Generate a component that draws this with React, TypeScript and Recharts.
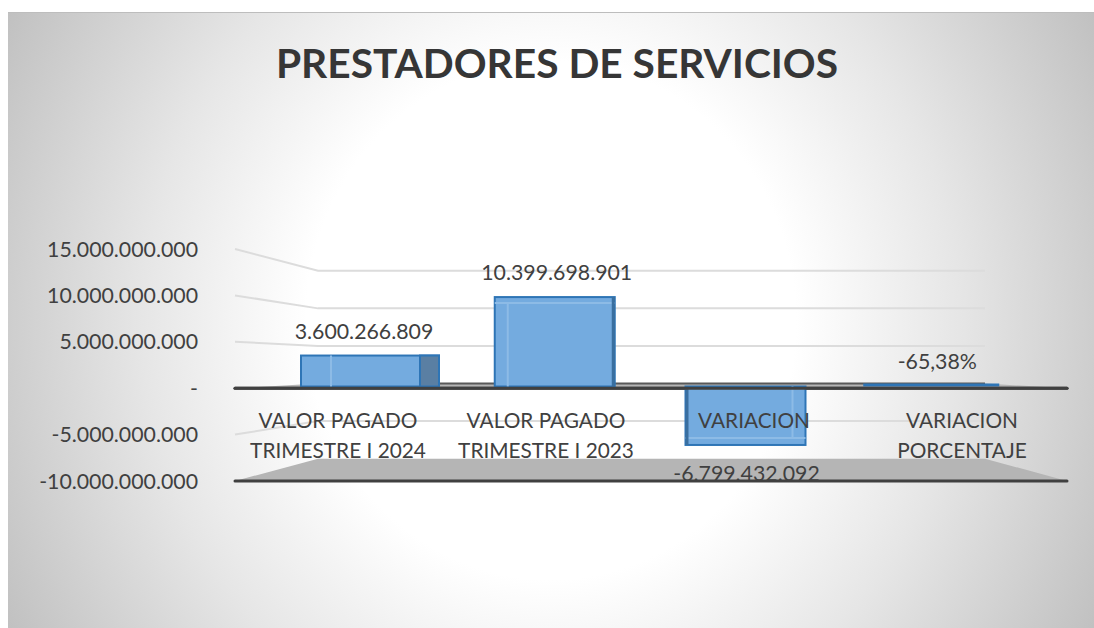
import { BarChart, Bar, XAxis, YAxis, ReferenceLine, LabelList } from 'recharts'

const categories = ['VALOR PAGADO\nTRIMESTRE I 2024', 'VALOR PAGADO\nTRIMESTRE I 2023', 'VARIACION', 'VARIACION\nPORCENTAJE']
const values = [3600266809, 10399698901, -6799432092, -0.6538]
const yTicks = [15000000000, 10000000000, 5000000000, 0, -5000000000, -10000000000]

// hand tweaks so the flat chart lines up with the 3D look of the original
const barNudge = [0, 0, 6, -1]
const labelNudge = [-6, 2, 7, 13]

const WIDTH = 1086
const HEIGHT = 616
const PLOT_TOP = 237
const PLOT_H = 232
const FONT = 'Lato, Carlito, sans-serif'
const FONT_SIZE = 21.3
const TEXT = '#404040'
const GRID = '#dcdcdc'
const FLOOR = '#b5b5b5'
const AXIS = '#404040'

const data = categories.map((name, i) => ({ name, value: values[i] }))

const formatNumber = (v: number) => {
  if (v === 0) return '-'
  if (Math.abs(v) < 1) return (v * 100).toFixed(2).replace('.', ',') + '%'
  return String(v).replace(/\B(?=(\d{3})+(?!\d))/g, '.')
}

const frontY = (v: number) => PLOT_TOP + ((15000000000 - v) / 25000000000) * PLOT_H

function WallLine(props: any) {
  const { x1, x2, y1, value } = props
  const bx1 = x1 + 83
  const bx2 = x2 - 82
  return (
    <g fill="none" stroke={GRID} strokeWidth={2}>
      <polyline points={`${x1},${frontY(value)} ${bx1},${y1} ${bx2},${y1}`} />
    </g>
  )
}

function Floor(props: any) {
  const { x1, x2, y1, value } = props
  const bx1 = x1 + 83
  const bx2 = x2 - 82
  const fy = frontY(value)
  return (
    <g>
      <polygon points={`${x1},${fy} ${bx1},${y1} ${bx2},${y1} ${x2},${fy}`} fill={FLOOR} />
      {value === 0 && <line x1={bx1} x2={bx2} y1={y1} y2={y1} stroke="#595959" strokeWidth={2} />}
      <line x1={x1} x2={x2} y1={fy} y2={fy} stroke={AXIS} strokeWidth={3} strokeLinecap="round" />
    </g>
  )
}

function FrontEdge(props: any) {
  const { x1, x2, y1 } = props
  return <line x1={x1} x2={x2} y1={y1} y2={y1} stroke={AXIS} strokeWidth={3} strokeLinecap="round" />
}

function BoxBar(props: any) {
  const { x, y, width, height, index } = props
  const top = Math.min(y, y + height)
  const bottom = Math.max(y, y + height)
  const left = x + barNudge[index]
  const right = left + width
  const stroke = '#2e75b6'
  const fill = '#74abdf'
  const inner = '#8dbbe6'

  if (index === 0) {
    // wide box, side face visible on the right
    return (
      <g>
        <rect x={left - 9} y={top} width={width + 18} height={bottom - top} fill={fill} stroke={stroke} strokeWidth={2} />
        <line x1={left + 21} x2={left + 21} y1={top} y2={bottom} stroke={inner} strokeWidth={2} />
        <rect x={right - 10} y={top} width={19} height={bottom - top} fill="#5a7fa3" stroke={stroke} strokeWidth={2} />
      </g>
    )
  }
  if (index === 1) {
    return (
      <g>
        <rect x={left} y={top} width={width} height={bottom - top} fill={fill} stroke={stroke} strokeWidth={2} />
        <line x1={left + 13} x2={left + 13} y1={top + 6} y2={bottom} stroke={inner} strokeWidth={2} />
        <line x1={left} x2={right} y1={top + 6} y2={top + 6} stroke={inner} strokeWidth={2} />
        <rect x={right - 3} y={top} width={3} height={bottom - top} fill="#3a6f9f" />
      </g>
    )
  }
  if (index === 2) {
    return (
      <g>
        <rect x={left} y={top} width={width} height={bottom - top} fill={fill} stroke={stroke} strokeWidth={2} />
        <line x1={right - 13} x2={right - 13} y1={top} y2={bottom - 7} stroke={inner} strokeWidth={2} />
        <line x1={left} x2={right} y1={bottom - 7} y2={bottom - 7} stroke={inner} strokeWidth={2} />
        <rect x={left} y={top} width={3} height={bottom - top} fill="#3a6f9f" />
      </g>
    )
  }
  // percentage is next to nothing on a scale of billions
  return <rect x={left} y={top - 3} width={width + 16} height={3} fill={stroke} />
}

function ValueLabel(props: any) {
  const { x, y, width, height, index, value } = props
  const top = Math.min(y, y + height)
  const bottom = Math.max(y, y + height)
  const ly = value < 0 && index === 2 ? bottom + 28 : top - 25
  return (
    <text x={x + width / 2 + labelNudge[index]} y={ly} textAnchor="middle" dominantBaseline="central" fontSize={FONT_SIZE} fill={TEXT} fontFamily={FONT}>
      {formatNumber(value)}
    </text>
  )
}

function CategoryTick(props: any) {
  const { x, y, payload } = props
  const lines = String(payload.value).split('\n')
  return (
    <g>
      {lines.map((t, i) => (
        <text key={t} x={x - 1} y={y - 70 + i * 30} textAnchor="middle" dominantBaseline="central" fontSize={20.8} fill={TEXT} fontFamily={FONT}>
          {t}
        </text>
      ))}
    </g>
  )
}

export default function App() {
  return (
    <div
      style={{
        position: 'absolute',
        left: 8,
        top: 12,
        width: WIDTH,
        height: HEIGHT,
        borderTop: '1px solid #bdbdbd',
        boxSizing: 'border-box',
        background: 'radial-gradient(ellipse 680px 720px at 50% 50%, #ffffff 36%, #e6e6e6 60%, #bfbfbf 92%)',
      }}
    >
      <div
        style={{
          position: 'absolute',
          left: 0,
          width: 1098,
          top: 22,
          textAlign: 'center',
          fontFamily: FONT,
          fontWeight: 700,
          fontSize: 40.7,
          lineHeight: '56px',
          color: '#363636',
        }}
      >
        PRESTADORES DE SERVICIOS
      </div>
      <BarChart
        width={WIDTH}
        height={HEIGHT}
        data={data}
        margin={{ top: PLOT_TOP, right: 27, bottom: HEIGHT - PLOT_TOP - PLOT_H - 1, left: 0 }}
        barSize={120}
        style={{ position: 'absolute', left: 0, top: -1 }}
      >
        <XAxis dataKey="name" height={1} axisLine={false} tickLine={false} interval={0} tick={<CategoryTick />} />
        <XAxis xAxisId="bars" dataKey="name" hide padding={{ left: 43, right: 50 }} />
        <YAxis
          width={227}
          domain={[-10000000000, 15000000000]}
          ticks={yTicks}
          interval={0}
          axisLine={false}
          tickLine={false}
          tickMargin={31}
          tickFormatter={formatNumber}
          tick={{ fontSize: FONT_SIZE, fill: TEXT, fontFamily: FONT }}
        />
        {/* the depth of the 3D box: back wall and bars have their own scale */}
        <YAxis yAxisId="back" hide domain={[-12970000000, 17900000000]} />
        <YAxis yAxisId="bars" hide domain={[-10990000000, 15990000000]} />

        {/* empty series so the front and back axes get their scales */}
        <Bar dataKey="value" shape={() => null} isAnimationActive={false} />
        <Bar dataKey="value" yAxisId="back" shape={() => null} isAnimationActive={false} />

        {yTicks
          .filter((t) => t !== 0 && t !== -10000000000)
          .map((t) => (
            <ReferenceLine key={t} zIndex={100} yAxisId="back" y={t} shape={(p: any) => <WallLine {...p} value={t} />} />
          ))}
        <ReferenceLine zIndex={100} yAxisId="back" y={0} shape={(p: any) => <Floor {...p} value={0} />} />
        <ReferenceLine zIndex={100} yAxisId="back" y={-10000000000} shape={(p: any) => <Floor {...p} value={-10000000000} />} />

        <Bar dataKey="value" xAxisId="bars" yAxisId="bars" shape={<BoxBar />} isAnimationActive={false}>
          <LabelList dataKey="value" content={<ValueLabel />} />
        </Bar>
        <ReferenceLine y={0} shape={<FrontEdge />} />
      </BarChart>
    </div>
  )
}
